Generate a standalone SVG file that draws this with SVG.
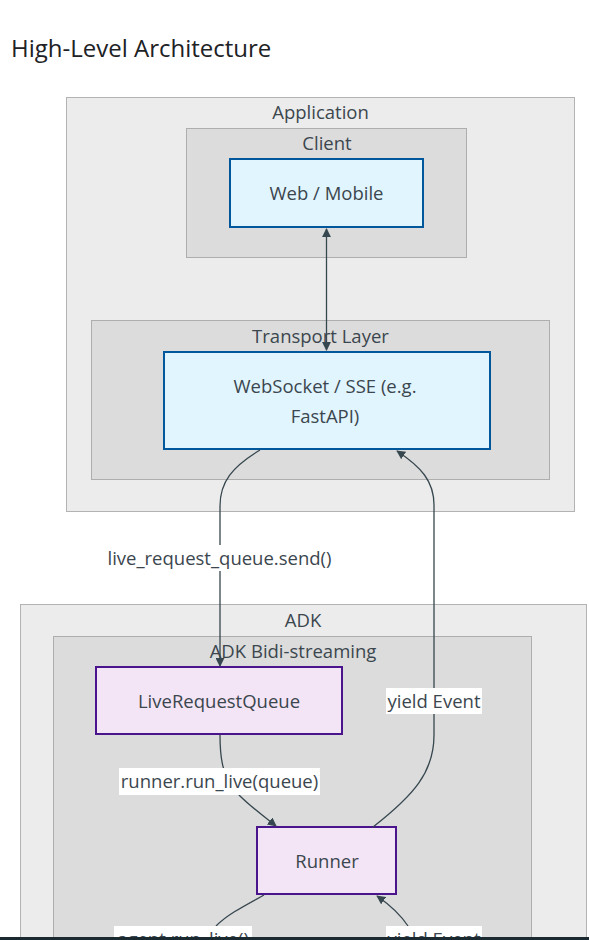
<svg xmlns="http://www.w3.org/2000/svg" width="589" height="940" viewBox="0 0 589 940">
<defs>
<style>
.t{font-family:"Open Sans",Roboto,sans-serif;font-size:18.5px;fill:#3b464e;text-anchor:middle;dominant-baseline:central}
.c1{fill:#ececec;stroke:#b3b3b3;stroke-width:1}
.c2{fill:#dcdcdc;stroke:#aeaeae;stroke-width:1}
.nb{fill:#e1f5fe;stroke:#01579b;stroke-width:2}
.np{fill:#f3e5f5;stroke:#4a148c;stroke-width:2}
.e{fill:none;stroke:#37474f;stroke-width:1.3}
.lb{fill:#ffffff}
</style>
<marker id="ah" viewBox="0 0 10 10" refX="9" refY="5" markerWidth="9" markerHeight="9" markerUnits="userSpaceOnUse" orient="auto-start-reverse">
<path d="M0,0 L10,5 L0,10 z" fill="#37474f"/>
</marker>
</defs>
<rect width="589" height="940" fill="#ffffff"/>
<text x="11" y="47" style="font-family:'Open Sans',Roboto,sans-serif;font-size:24px;fill:#202124;dominant-baseline:central">High-Level Architecture</text>

<g id="cluster-application">
<rect class="c1" x="66.5" y="97.5" width="508" height="414"/>
<text class="t" x="320.5" y="111">Application</text>
</g>
<g id="cluster-client">
<rect class="c2" x="186.5" y="128.5" width="280" height="129"/>
<text class="t" x="327" y="142">Client</text>
</g>
<g id="cluster-transport">
<rect class="c2" x="91.5" y="320.5" width="458" height="159"/>
<text class="t" x="320.5" y="335">Transport Layer</text>
</g>
<g id="cluster-adk">
<rect class="c1" x="20.5" y="604.5" width="566" height="345"/>
<text class="t" x="303" y="619">ADK</text>
</g>
<g id="cluster-adk-bidi">
<rect class="c2" x="53.5" y="636.5" width="478" height="313"/>
<text class="t" x="293" y="650">ADK Bidi-streaming</text>
</g>

<g id="node-web">
<rect class="nb" x="230" y="159" width="193" height="68"/>
<text class="t" x="326.5" y="192">Web / Mobile</text>
</g>
<g id="node-transport">
<rect class="nb" x="164" y="352" width="326" height="97"/>
<text class="t" x="325" y="385">WebSocket / SSE (e.g.</text>
<text class="t" x="325" y="415">FastAPI)</text>
</g>
<g id="node-lrq">
<rect class="np" x="96" y="667" width="246" height="67"/>
<text class="t" x="219" y="700">LiveRequestQueue</text>
</g>
<g id="node-runner">
<rect class="np" x="257" y="827" width="139" height="67"/>
<text class="t" x="327" y="860">Runner</text>
</g>

<g id="connectors">
<path class="e" d="M326.5,229 L326.5,350" marker-start="url(#ah)" marker-end="url(#ah)"/>
<path class="e" d="M260,450 C232,467 220,482 220,506 L220,666" marker-end="url(#ah)"/>
<path class="e" d="M373,827 C414,795 434,772 434,735 L434,505 C434,481 421,467 397,451" marker-end="url(#ah)"/>
<path class="e" d="M220,735 C220,765 224,778 240,796 C250,806 262,815 276,826" marker-end="url(#ah)"/>
<path class="e" d="M264,895 C246,905 228,914 216,926"/>
<path class="e" d="M408,926 C400,914 390,905 377,896" marker-end="url(#ah)"/>
</g>

<g id="edge-labels">
<rect class="lb" x="100" y="545" width="239" height="26"/>
<text class="t" x="219.5" y="557">live_request_queue.send()</text>
<rect class="lb" x="386" y="688" width="96" height="26"/>
<text class="t" x="434" y="700">yield Event</text>
<rect class="lb" x="119" y="768" width="201" height="27"/>
<text class="t" x="219.5" y="780">runner.run_live(queue)</text>
<rect class="lb" x="114" y="926" width="138" height="27"/>
<text class="t" x="183" y="938">agent.run_live()</text>
<rect class="lb" x="386" y="926" width="96" height="27"/>
<text class="t" x="434" y="938">yield Event</text>
</g>
<rect x="0" y="937" width="589" height="3" fill="#1b2a30"/>
</svg>
